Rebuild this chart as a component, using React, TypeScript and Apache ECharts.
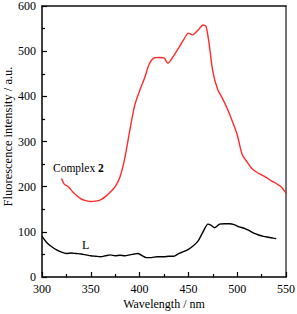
import React, { useEffect, useRef } from "react";
import * as echarts from "echarts";

const complexWavelength = [320, 323, 327, 332, 340, 345, 350, 355, 360, 365, 370, 375, 380, 385, 390, 395, 400, 405, 410, 415, 420, 425, 429, 435, 440, 445, 450, 454, 460, 465, 468, 471, 475, 480, 485, 490, 495, 500, 505, 510, 515, 520, 525, 530, 535, 540, 545, 550];
const complexIntensity = [218, 205, 200, 187, 173, 169, 167, 168, 171, 178, 188, 200, 222, 265, 325, 380, 412, 440, 472, 485, 486, 485, 473, 490, 507, 525, 540, 536, 547, 558, 555, 520, 455, 415, 395, 372, 345, 315, 272, 255, 240, 232, 226, 220, 213, 207, 200, 186];

const ligandWavelength = [300, 305, 310, 315, 320, 325, 330, 335, 340, 345, 350, 355, 360, 365, 370, 375, 380, 385, 390, 395, 398, 402, 407, 412, 418, 425, 430, 435, 440, 445, 450, 455, 460, 465, 470, 473, 477, 482, 487, 492, 497, 502, 507, 512, 517, 522, 527, 532, 537, 540];
const ligandIntensity = [90, 76, 67, 60, 55, 52, 53, 52, 51, 49, 47, 46, 45, 47, 49, 47, 48, 47, 49, 51, 52, 48, 43, 43, 45, 45, 46, 46, 52, 56, 61, 69, 80, 100, 117, 115, 109, 117, 118, 118, 116, 111, 108, 103, 97, 93, 90, 88, 86, 85];

const xTitle = "Wavelength / nm";
const yTitle = "Fluorescence intensity / a.u.";

const FONT = "Liberation Serif, Times New Roman, serif";

export default function App() {
  const ref = useRef<HTMLDivElement>(null);
  useEffect(() => {
    document.body.style.margin = "0";
    if (!ref.current) return;
    const chart = echarts.init(ref.current, undefined, { renderer: "svg" });
    const zip = (xs: number[], ys: number[]) => xs.map((x, i) => [x, ys[i]]);
    const frameAxis = {
      type: "value",
      axisLine: { show: true, onZero: false, lineStyle: { color: "#111", width: 1.5 } },
      axisTick: { show: false },
      axisLabel: { show: false },
      splitLine: { show: false },
    };
    chart.setOption({
      animation: false,
      backgroundColor: "#fff",
      textStyle: { fontFamily: FONT },
      grid: {
        left: 42,
        right: 11,
        top: 6,
        bottom: 37,
        outerBoundsMode: "none",
        containLabel: false,
      },
      xAxis: [
        {
          type: "value",
          position: "bottom",
          min: 300,
          max: 550,
          interval: 50,
          name: xTitle,
          nameLocation: "middle",
          nameGap: 21,
          nameMoveOverlap: false,
          nameTextStyle: { fontFamily: FONT, fontSize: 12, color: "#000", verticalAlign: "top" },
          axisLine: { show: true, onZero: false, lineStyle: { color: "#000", width: 1.5 } },
          axisTick: { show: true, inside: true, length: 5, lineStyle: { color: "#000", width: 1.2 } },
          minorTick: { show: true, splitNumber: 2, length: 3, lineStyle: { color: "#000", width: 1.2 } },
          axisLabel: { fontFamily: FONT, fontSize: 12, color: "#000", margin: 6 },
          splitLine: { show: false },
        },
        { ...frameAxis, position: "top", min: 300, max: 550 },
      ],
      yAxis: [
        {
          type: "value",
          position: "left",
          min: 0,
          max: 600,
          interval: 100,
          name: yTitle,
          nameLocation: "middle",
          nameGap: 28,
          nameMoveOverlap: false,
          nameRotate: 90,
          nameTextStyle: { fontFamily: FONT, fontSize: 12.5, color: "#000", padding: [0, 0, 0, 10] },
          axisLine: { show: true, onZero: false, lineStyle: { color: "#000", width: 1.5 } },
          axisTick: { show: true, inside: true, length: 5, lineStyle: { color: "#000", width: 1.2 } },
          minorTick: { show: true, splitNumber: 2, length: 3, lineStyle: { color: "#000", width: 1.2 } },
          axisLabel: { fontFamily: FONT, fontSize: 12, color: "#000", margin: 6 },
          splitLine: { show: false },
        },
        { ...frameAxis, position: "right", min: 0, max: 600, axisLine: { show: true, onZero: false, lineStyle: { color: "#444", width: 1.5 } } },
      ],
      series: [
        {
          name: "Complex 2",
          type: "line",
          data: zip(complexWavelength, complexIntensity),
          showSymbol: false,
          smooth: 0.25,
          lineStyle: { color: "#ff2a2a", width: 1.4 },
          itemStyle: { color: "#ff2a2a" },
        },
        {
          name: "L",
          type: "line",
          data: zip(ligandWavelength, ligandIntensity),
          showSymbol: false,
          smooth: 0.25,
          lineStyle: { color: "#000", width: 1.4 },
          itemStyle: { color: "#000" },
        },
      ],
      graphic: [
        {
          type: "text",
          x: 53,
          y: 168,
          style: {
            text: "{a|Complex }{b|2}",
            verticalAlign: "middle",
            rich: {
              a: { fontFamily: FONT, fontSize: 11.5, fill: "#000", color: "#000" },
              b: { fontFamily: FONT, fontSize: 11.5, fontWeight: "bold", fill: "#000", color: "#000" },
            },
          },
        },
        {
          type: "text",
          x: 82,
          y: 245,
          style: { text: "L", fontFamily: FONT, fontSize: 12, fill: "#000", verticalAlign: "middle" },
        },
      ],
    });
    return () => chart.dispose();
  }, []);
  return <div ref={ref} style={{ width: 297, height: 314 }} />;
}
